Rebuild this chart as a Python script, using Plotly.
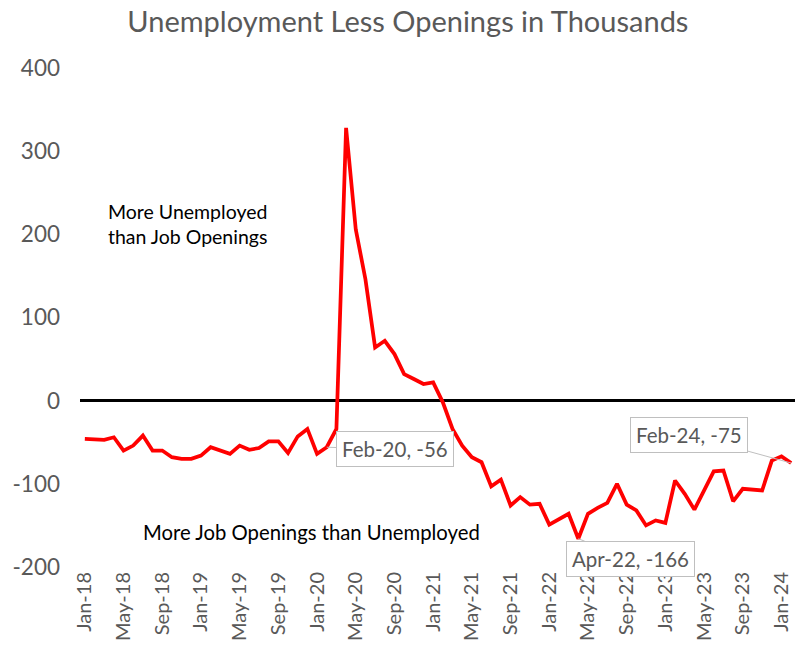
import plotly.graph_objects as go

month_names = ["Jan", "Feb", "Mar", "Apr", "May", "Jun",
               "Jul", "Aug", "Sep", "Oct", "Nov", "Dec"]
months = [f"{m}-{y:02d}" for y in range(18, 25) for m in month_names][:74]

values = [
    -46, -47, -47, -44, -60, -54, -42, -60, -60, -68, -70, -70,
    -66, -56, -60, -64, -54, -59, -57, -49, -49, -63, -43, -34,
    -64, -56, -34, 328, 206, 146, 64, 72, 56, 32, 26, 20,
    22, -2, -34, -54, -68, -74, -103, -95, -126, -116, -125, -124,
    -149, -142, -136, -166, -136, -129, -123, -100, -125, -132, -150, -144,
    -147, -96, -112, -131, -108, -85, -84, -121, -106, -107, -108, -72,
    -67, -75,
]

tick_months = months[::4]
y_ticks = [-200, -100, 0, 100, 200, 300, 400]
y_tick_labels = ["-200", "-100", "0", "100", "200", "300", "400"]
labelled = ["Feb-20", "Apr-22", "Feb-24"]
label_offsets = {"Feb-20": (68, 2), "Apr-22": (52, 20), "Feb-24": (-102, -28)}

FONT = "Lato"
GRAY = "#595959"

fig = go.Figure()
fig.add_trace(go.Scatter(
    x=months, y=values, mode="lines",
    line=dict(color="#FF0000", width=3.75),
    hoverinfo="x+y", showlegend=False,
))

annotations = []
for m in labelled:
    i = months.index(m)
    ax, ay = label_offsets[m]
    annotations.append(dict(
        x=m, y=values[i], xref="x", yref="y",
        text=f"{m}, {values[i]}",
        showarrow=True, arrowhead=0, arrowwidth=1, arrowcolor="#BFBFBF",
        ax=ax, ay=ay,
        font=dict(family=FONT, size=20.5, color=GRAY),
        bgcolor="white", bordercolor="#BFBFBF", borderwidth=1, borderpad=5,
    ))

annotations.append(dict(
    x=2.2, y=213, xref="x", yref="y", xanchor="left", yanchor="middle",
    text="More Unemployed<br>than Job Openings", showarrow=False, align="left",
    font=dict(family=FONT, size=19.5, color="black"),
))
annotations.append(dict(
    x=23.4, y=-158, xref="x", yref="y", xanchor="center", yanchor="middle",
    text="More Job Openings than Unemployed", showarrow=False,
    font=dict(family=FONT, size=20.3, color="black"),
))

fig.update_layout(
    width=795, height=652,
    margin=dict(l=72, r=6.5, t=60, b=93),
    paper_bgcolor="white", plot_bgcolor="white",
    title=dict(text="Unemployment Less Openings in Thousands",
               x=0.503, xref="container", xanchor="center",
               y=0.979, yref="container", yanchor="middle",
               font=dict(family=FONT, size=29, color=GRAY)),
    annotations=annotations,
    font=dict(family=FONT, color=GRAY),
)
fig.update_xaxes(
    type="category", range=[-0.5, 73.5], automargin=False,
    tickmode="array", tickvals=tick_months, ticktext=tick_months,
    tickangle=-90, tickfont=dict(family=FONT, size=20, color=GRAY),
    showgrid=False, showline=False, ticks="", zeroline=False,
)
fig.update_yaxes(
    range=[-200, 400], automargin=False,
    tickmode="array", tickvals=y_ticks, ticktext=y_tick_labels,
    tickfont=dict(family=FONT, size=22.5, color=GRAY),
    showgrid=False, showline=False, ticks="",
    zeroline=True, zerolinecolor="black", zerolinewidth=3,
    ticklabelstandoff=19,
)

fig.write_html("out.html")
